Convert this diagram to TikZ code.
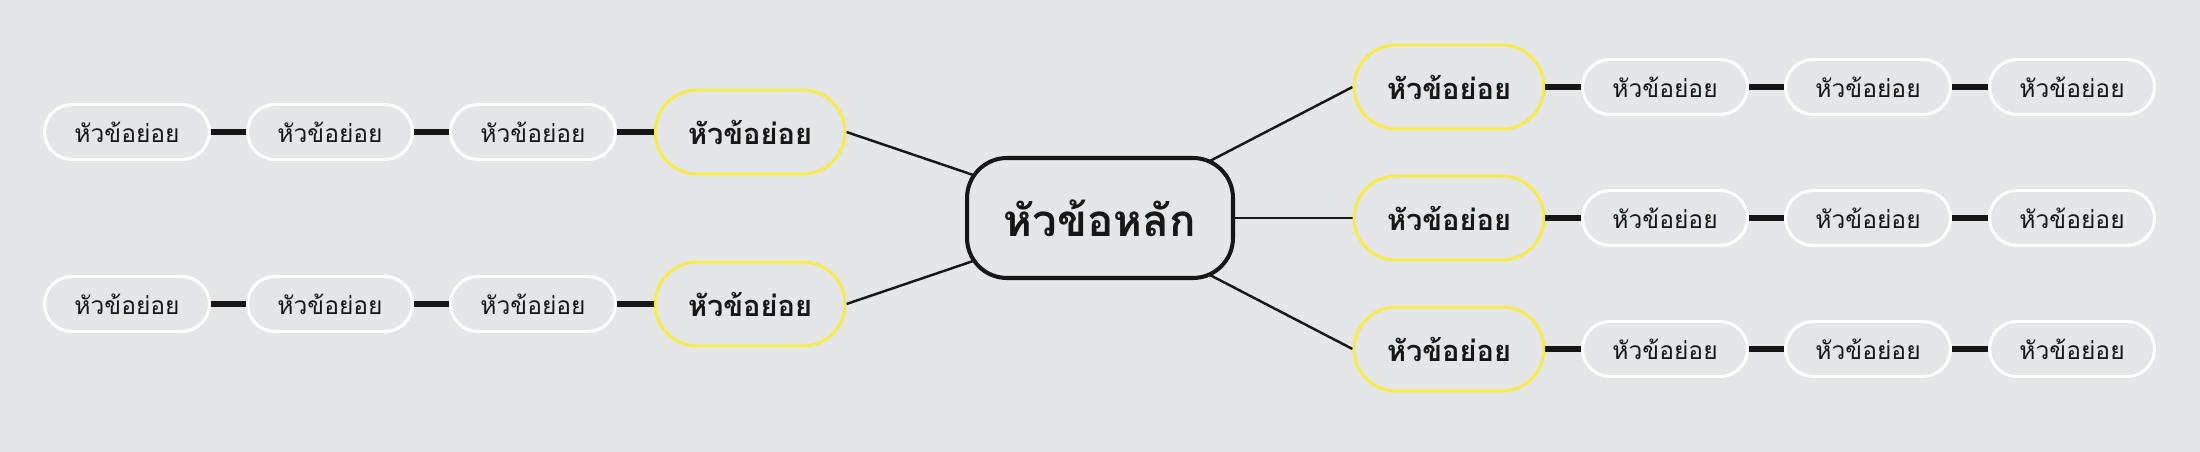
\documentclass[tikz,border=0pt]{standalone}
\usepackage{fontspec}
\newfontfamily\thaifont[Script=Thai]{Loma}
\usepackage{tikz}
\usetikzlibrary{backgrounds}
\definecolor{bggray}{RGB}{229,230,232}
\definecolor{topicyellow}{RGB}{248,236,76}
\definecolor{ink}{RGB}{22,22,22}

\begin{document}
\begin{tikzpicture}[x=0.02cm, y=-0.02cm,
    leaf/.style={draw=white, line width=1.7pt, fill=bggray, text=ink,
      rounded corners=0.55cm, minimum width=3.3cm, minimum height=1.1cm,
      inner sep=0pt, font=\thaifont\fontsize{14}{17}\selectfont},
    sub/.style={draw=topicyellow, line width=1.7pt, fill=bggray, text=ink,
      rounded corners=0.84cm, minimum width=3.8cm, minimum height=1.68cm,
      inner sep=0pt, font=\thaifont\bfseries\fontsize{16.5}{20}\selectfont},
    root/.style={draw=ink, line width=2.3pt, fill=bggray, text=ink,
      rounded corners=0.8cm, minimum width=5.32cm, minimum height=2.4cm,
      inner sep=0pt, font=\thaifont\bfseries\fontsize{25}{30}\selectfont},
    spoke/.style={draw=ink, line width=1.4pt},
    link/.style={draw=ink, line width=3.4pt}]
      \useasboundingbox (0,0) rectangle (2200,452);
      % central topic
      \node [root] (main) at (1100,218) {หัวข้อหลัก};
      % left branches
      \node [sub] (la) at (750,132) {หัวข้อย่อย};
      \node [sub] (lb) at (750,304) {หัวข้อย่อย};
      \node [leaf] (la1) at (533,132) {หัวข้อย่อย};
      \node [leaf] (la2) at (330,132) {หัวข้อย่อย};
      \node [leaf] (la3) at (127,132) {หัวข้อย่อย};
      \node [leaf] (lb1) at (533,304) {หัวข้อย่อย};
      \node [leaf] (lb2) at (330,304) {หัวข้อย่อย};
      \node [leaf] (lb3) at (127,304) {หัวข้อย่อย};
      % right branches
      \node [sub] (ra) at (1449,87) {หัวข้อย่อย};
      \node [sub] (rb) at (1449,218) {หัวข้อย่อย};
      \node [sub] (rc) at (1449,349) {หัวข้อย่อย};
      \node [leaf] (ra1) at (1665,87) {หัวข้อย่อย};
      \node [leaf] (ra2) at (1868,87) {หัวข้อย่อย};
      \node [leaf] (ra3) at (2072,87) {หัวข้อย่อย};
      \node [leaf] (rb1) at (1665,218) {หัวข้อย่อย};
      \node [leaf] (rb2) at (1868,218) {หัวข้อย่อย};
      \node [leaf] (rb3) at (2072,218) {หัวข้อย่อย};
      \node [leaf] (rc1) at (1665,349) {หัวข้อย่อย};
      \node [leaf] (rc2) at (1868,349) {หัวข้อย่อย};
      \node [leaf] (rc3) at (2072,349) {หัวข้อย่อย};
      % backdrop and spokes, behind the nodes so spokes meet the rounded border
      \begin{scope}[on background layer]
        \fill [bggray] (0,0) rectangle (2200,452);
        \draw [spoke] (la.east) -- (main.center);
        \draw [spoke] (lb.east) -- (main.center);
        \draw [spoke] (ra.west) -- (main.center);
        \draw [spoke] (rb.west) -- (main.center);
        \draw [spoke] (rc.west) -- (main.center);
      \end{scope}
      % chains
      \draw [link] (la) -- (la1);
      \draw [link] (la1) -- (la2);
      \draw [link] (la2) -- (la3);
      \draw [link] (lb) -- (lb1);
      \draw [link] (lb1) -- (lb2);
      \draw [link] (lb2) -- (lb3);
      \draw [link] (ra) -- (ra1);
      \draw [link] (ra1) -- (ra2);
      \draw [link] (ra2) -- (ra3);
      \draw [link] (rb) -- (rb1);
      \draw [link] (rb1) -- (rb2);
      \draw [link] (rb2) -- (rb3);
      \draw [link] (rc) -- (rc1);
      \draw [link] (rc1) -- (rc2);
      \draw [link] (rc2) -- (rc3);
\end{tikzpicture}
\end{document}
